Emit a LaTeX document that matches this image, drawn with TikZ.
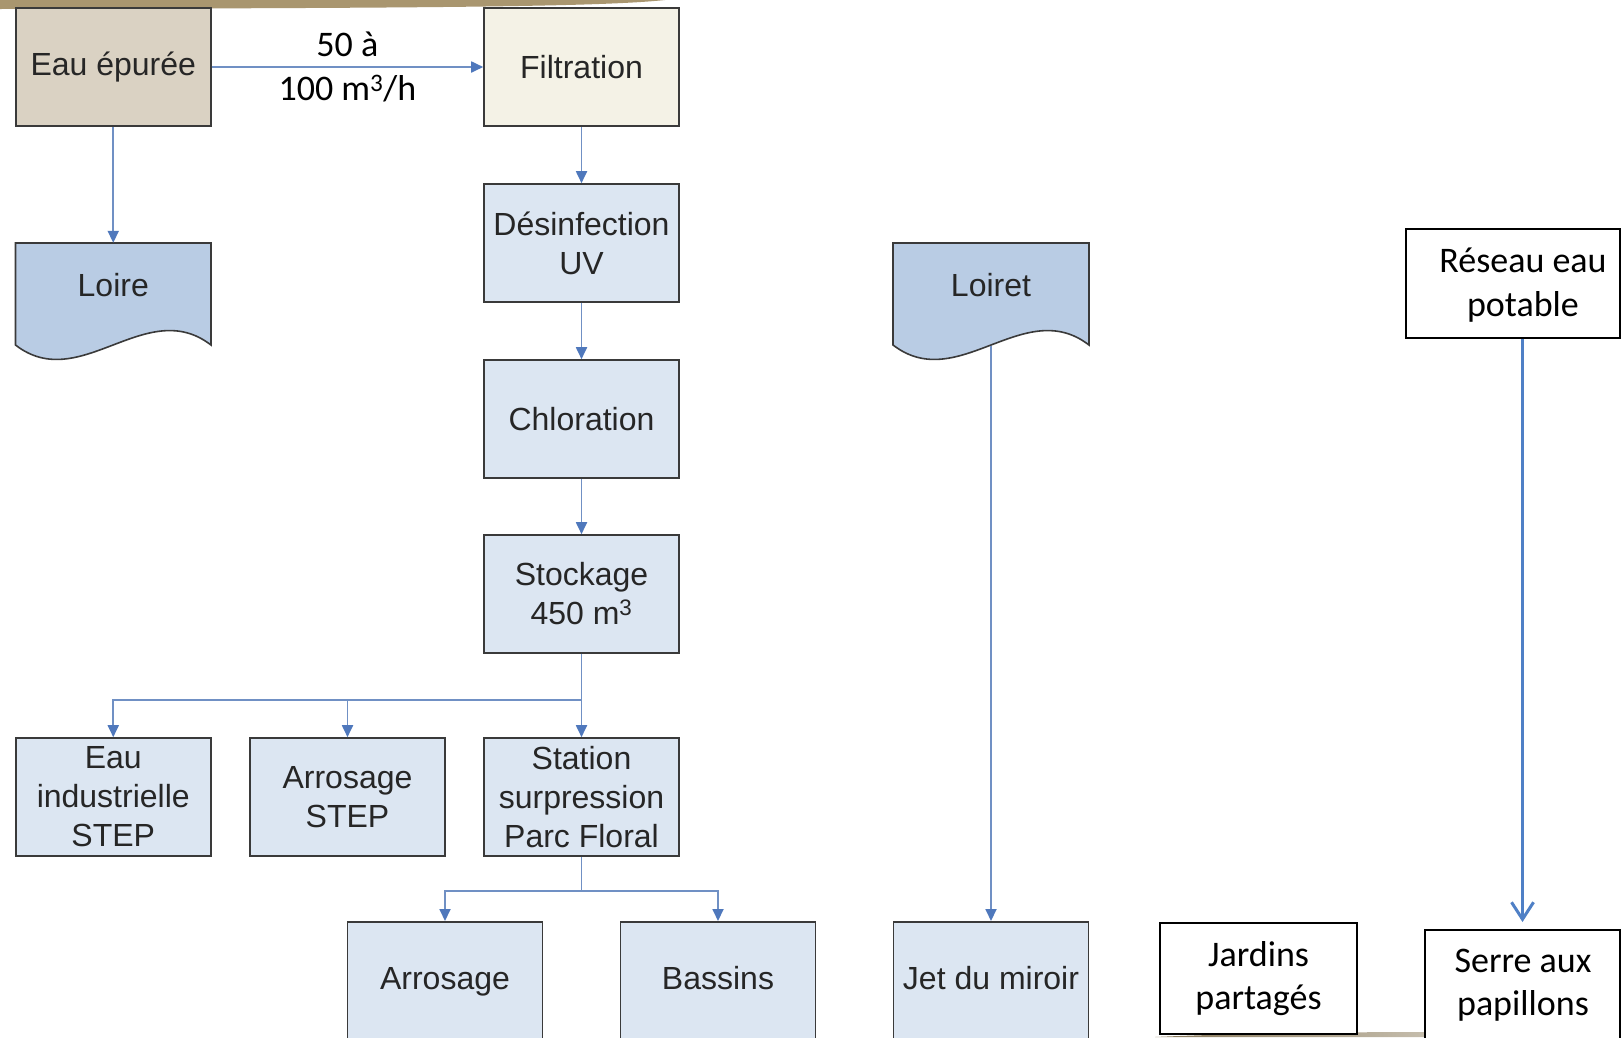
\documentclass[tikz,border=0pt]{standalone}
\usepackage{fontspec}
\setmainfont{Liberation Sans}
\newfontfamily\calfont{Carlito}
\usetikzlibrary{arrows.meta,calc}
\definecolor{boxblue}{HTML}{DCE6F2}
\definecolor{docblue}{HTML}{B9CCE4}
\definecolor{eaufill}{HTML}{DAD2C3}
\definecolor{filtfill}{HTML}{F4F2E6}
\definecolor{conncol}{HTML}{7090C4}
\definecolor{tipcol}{HTML}{4F78BC}
\definecolor{bluearr}{HTML}{4F80C6}
\definecolor{bandcol}{HTML}{A9966F}
\definecolor{txtcol}{HTML}{262626}
\definecolor{edgecol}{HTML}{3A3A3A}
\tikzset{
  x=1pt, y=-1pt,
  flowbox/.style={rectangle, draw=edgecol, line width=1.6pt, fill=boxblue,
    minimum width=195pt, minimum height=118pt, inner sep=0pt, align=center,
    text=txtcol, font=\fontsize{32}{39}\selectfont},
  doctext/.style={rectangle, minimum width=195pt, minimum height=84pt, inner sep=0pt,
    align=center, text=txtcol, font=\fontsize{32}{39}\selectfont},
  basetext/.style={inner sep=0pt, anchor=base, text=txtcol, font=\fontsize{32}{39}\selectfont},
  calbox/.style={rectangle, draw=black, line width=1.6pt, fill=white,
    inner sep=0pt, align=center, font=\calfont\fontsize{36}{43.5}\selectfont},
  caltext/.style={inner sep=0pt, align=center, font=\calfont\fontsize{36}{43.5}\selectfont},
  conn/.style={draw=conncol, line width=1.8pt},
  arr/.style={conn, -{Triangle[length=12pt,width=11pt,fill=tipcol,color=tipcol]}},
  bigarr/.style={draw=bluearr, line width=3pt, -{Straight Barb[length=17pt,width=22pt,line width=3pt]}, shorten >=7pt},
  docshape/.style={fill=docblue, draw=edgecol, line width=1.6pt}
}
\begin{document}
\begin{tikzpicture}
\clip (0,0) rectangle (1621,1037);
\fill[white] (0,0) rectangle (1621,1037);
% decorative bands
\fill[bandcol] (0,0) -- (665,0) .. controls (600,7) and (420,8) .. (0,9) -- cycle;
\shade[left color=bandcol!80!black, right color=bandcol!15] (1155,1037) .. controls (1290,1031) and (1480,1031) .. (1621,1034) -- (1621,1037) -- cycle;

% document shapes
\draw[docshape] (15.5,243) -- (15.5,345) .. controls (80,395) and (146,295) .. (211,345) -- (211,243) -- cycle;
\draw[docshape] (893,243) -- (893,345) .. controls (958,395) and (1024,295) .. (1089,345) -- (1089,243) -- cycle;
\node[doctext] (loire) at (113.25,285) {Loire};
\node[doctext] (loiret) at (991,285) {Loiret};
\coordinate (loiretout) at (991,346);

% boxes
\node[flowbox, fill=eaufill] (eau) at (113.25,67) {Eau épurée};
\node[flowbox, fill=filtfill] (filt) at (581.5,67) {Filtration};
\node[flowbox] (desinf) at (581.5,243) {Désinfection\\UV};
\node[flowbox] (chlor) at (581.5,419) {Chloration};
\node[flowbox] (stock) at (581.5,594) {Stockage\\450 m\textsuperscript{3}};
\node[flowbox] (eauind) at (113.25,797) {Eau\\industrielle\\STEP};
\node[flowbox] (arrstep) at (347.5,797) {Arrosage\\STEP};
\node[flowbox] (station) at (581.5,797) {Station\\surpression\\Parc Floral};
\node[flowbox, anchor=north] (arros) at (445,921) {};
\node[flowbox, anchor=north] (bassins) at (718,921) {};
\node[flowbox, anchor=north] (jet) at (991,921) {};
\node[basetext] (arrostxt) at (445,989) {Arrosage};
\node[basetext] (bassinstxt) at (718,989) {Bassins};
\node[basetext] (jettxt) at (991,989) {Jet du miroir};

% Calibri boxes
\node[calbox, minimum width=214pt, minimum height=109pt] (reseau) at (1513,283.5) {};
\node[caltext] (reseautxt) at (1523,285) {Réseau eau\\potable};
\node[calbox, minimum width=197pt, minimum height=111pt] (jardins) at (1258.5,978.5) {Jardins\\partagés};
\node[calbox, minimum width=195pt, minimum height=118pt, anchor=north] (serre) at (1522.5,929) {};
\node[caltext] (serretxt) at (1523,985) {Serre aux\\papillons};

% connectors
\draw[arr] (eau) -- node[caltext, text=black] (debit) {50 à\\100 m\textsuperscript{3}/h} (filt);
\draw[arr] (eau) -- (loire);
\draw[arr] (filt) -- (desinf);
\draw[arr] (desinf) -- (chlor);
\draw[arr] (chlor) -- (stock);
\coordinate (b1) at (581.5,700);
\draw[conn] (stock.south) -- (b1);
\draw[arr] (b1) -- (station);
\draw[arr] (b1) -| (eauind.north);
\draw[arr] (b1 -| arrstep.north) -- (arrstep.north);
\coordinate (b2) at (581.5,891);
\draw[conn] (station.south) -- (b2);
\draw[arr] (b2) -| (arros.north);
\draw[arr] (b2) -| (bassins.north);
\draw[arr] (loiretout) -- (jet.north);
\draw[bigarr] (reseau.south -| serre.north) -- (serre.north);
\end{tikzpicture}
\end{document}
